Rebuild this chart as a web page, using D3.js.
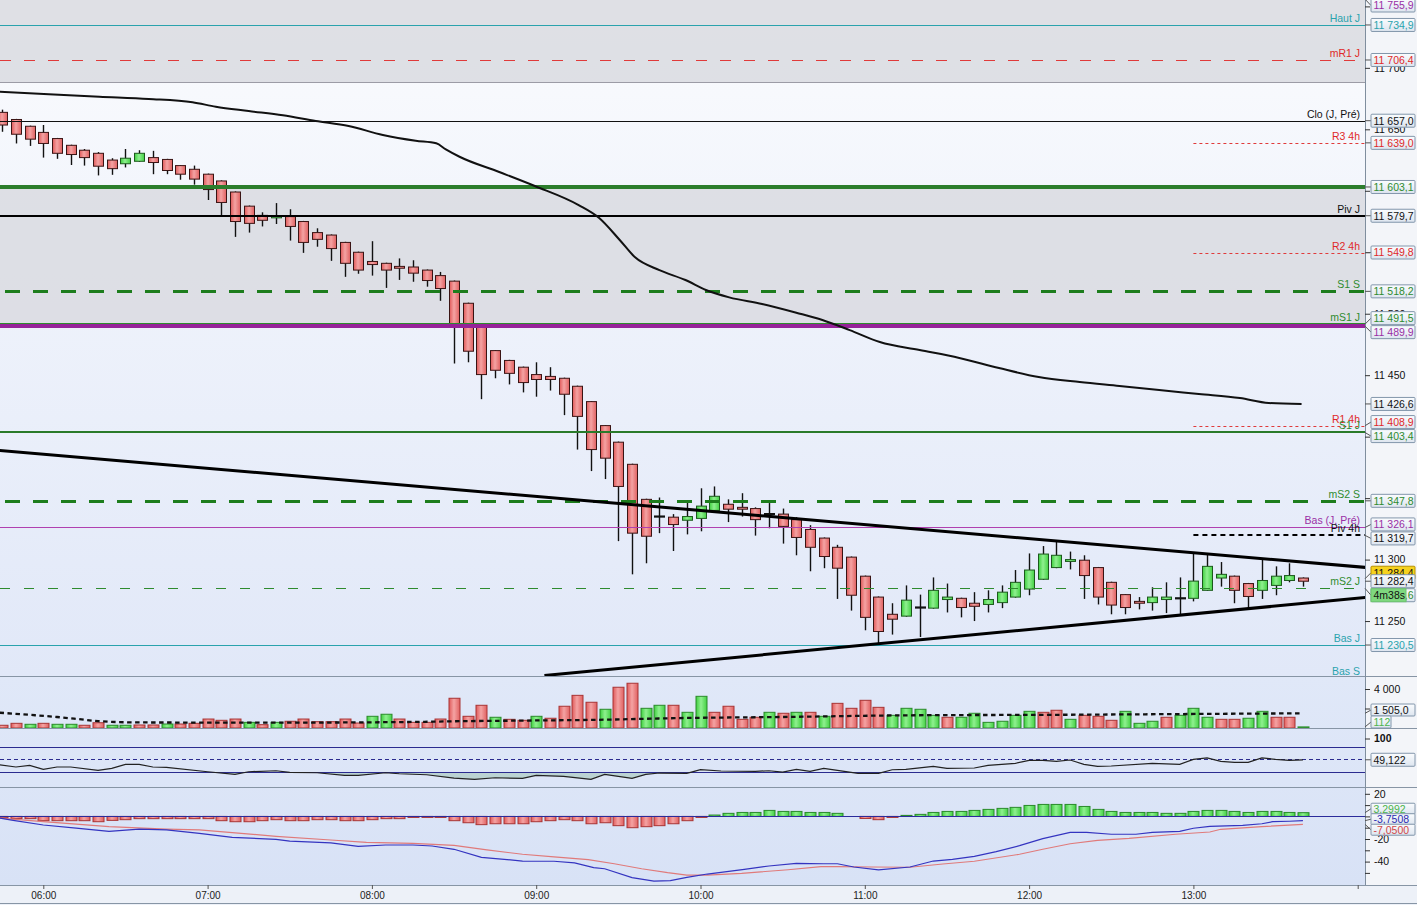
<!DOCTYPE html>
<html><head><meta charset="utf-8">
<script src="https://cdn.jsdelivr.net/npm/d3@7/dist/d3.min.js"></script>
<style>
html,body{margin:0;padding:0;background:#edf1f8;overflow:hidden}
svg{display:block;font-family:"Liberation Sans",Arial,sans-serif}
</style></head><body>
<svg id="c" width="1417" height="905"></svg>
<script>
// ---------------- DATA ----------------
const firstCandle = "05:45";   // time of first candle
const candleMinutes = 5;
const open  = [11663.8,11658,11652.5,11647.5,11642.5,11637,11633,11630.5,11625,11622,
  11624,11627,11625.5,11620.5,11617.5,11613.5,11608,11599,11587.5,11580,
  11578,11579,11575,11566,11564,11558,11550,11542.5,11541,11538.5,
  11538,11535.5,11531,11526.5,11508.5,11489,11470,11462,11456.5,11450.5,
  11449,11447.5,11441,11428.5,11409,11395.5,11377.5,11349,11335,11334.5,
  11332,11333.5,11340,11345,11342.5,11341.5,11337,11337,11332.5,11324.5,
  11317.5,11310,11302,11286.5,11269.5,11255.5,11254,11261,11260.5,11267.5,
  11268.5,11264.5,11263.5,11265,11269.5,11276,11284,11293.5,11298.5,11299.5,
  11293.5,11281.5,11271.5,11266,11265,11267.5,11268.5,11268.5,11275,11285,
  11286.5,11280.5,11275,11279,11283,11285];
const high  = [11666,11658.5,11653,11653.5,11643,11637.5,11634,11631.5,11626.5,11634,
  11633,11632.5,11626,11621,11620.5,11614,11608.5,11599.5,11588,11582.5,
  11590,11585,11575.5,11569.5,11564.5,11558.5,11550.5,11559,11541.5,11545,
  11543.5,11536,11534,11527,11509,11489.5,11470.5,11462.5,11457,11460.5,
  11456.5,11448,11441.5,11429,11409.5,11396,11378,11349.5,11350.5,11337,
  11346.5,11358,11359.5,11349,11354,11342.5,11346,11341.5,11334.5,11328,
  11318,11312,11302.5,11287,11270,11264.5,11279,11271.5,11285.5,11280.5,
  11269,11273.5,11275,11279,11291.5,11305,11311,11315,11306.5,11303.5,
  11294,11282,11272,11269.5,11277.5,11281.5,11285.5,11305,11304.5,11298,
  11287,11281,11300,11294.5,11297,11285.5];
const low   = [11648,11638.5,11636.5,11627,11626,11621,11620.5,11612.5,11613,11619,
  11623.5,11613.5,11613.5,11609,11605,11592.5,11580,11562.5,11566,11571,
  11573,11559.5,11549.5,11554.5,11543,11530,11532.5,11531,11521,11527.5,
  11526,11522,11510.5,11459.5,11460.5,11430.5,11447.5,11442.5,11436,11432.5,
  11437.5,11417.5,11389.5,11372,11365.5,11315,11288,11297,11321.5,11307,
  11320.5,11323,11339.5,11330.5,11335,11319.5,11325.5,11313,11303.5,11290.5,
  11293,11268,11258.5,11242.5,11230.5,11239,11253.5,11237,11260,11257,
  11253,11250,11257,11260.5,11269,11271,11283.5,11293,11292,11268,
  11263.5,11255.5,11255.5,11259.5,11258.5,11256.5,11254.5,11266,11274.5,11278,
  11264.5,11260.5,11268,11271,11281.5,11278];
const close = [11653.5,11646,11642,11638.5,11630.5,11629.5,11627,11620,11618,11626.5,
  11630.5,11623,11616.5,11613.5,11609.5,11601,11590.5,11575,11573.5,11576,
  11579.5,11571,11558,11560.5,11553,11541,11535.5,11540,11535.5,11537,
  11533,11527,11520.5,11491.5,11469.5,11450.5,11454,11451.5,11444,11446.5,
  11446.5,11434.5,11416.5,11389.5,11382.5,11359.5,11321.5,11319,11335,11328.5,
  11335,11343.5,11351.5,11341,11341,11332.5,11337,11327,11318,11310,
  11302.5,11293,11271,11253,11241.5,11251.5,11267,11261,11275,11269.5,
  11261,11262,11267.5,11273.5,11281.5,11291.5,11304.5,11303.5,11300,11287,
  11269.5,11263,11261,11264.5,11269.5,11269.5,11268.5,11282.5,11294.5,11288,
  11275,11270,11283,11286.5,11287,11282.4];
const volume = [280,480,380,480,380,380,280,540,280,280,
  310,310,410,410,480,920,790,920,580,340,
  580,690,920,650,650,920,510,1200,1410,920,
  580,580,920,3050,1200,2330,1100,890,790,1200,
  1000,2230,3350,2640,1920,4180,4590,2020,2330,2330,
  1610,3250,1610,2230,890,1100,1610,1510,1610,1610,
  1200,2530,2020,2840,2120,1300,2020,1920,1300,1100,
  1100,1510,580,690,1300,1710,1610,1820,890,1300,
  1200,790,1710,480,690,1100,1300,2020,1100,890,
  890,1000,1710,1100,1100,112];
const volumeSide = "rrgrggrrgg"+"rrgrrrrrgr"+"grrrrrrggr"+"rrrrrrgrrg"+"rrrrgrrggr"+
  "ggrrrrgrgr"+"grrrrggggr"+"ggggggrrgr"+"rrgggrgggr"+"rggrrg";
const volumeMA = [[-0.2,1570],[2,1350],[4,1130],[5.5,920],[7,700],[10,570],[20,550],[30,620],
  [33,690],[38,760],[43,830],[50,1030],[57,1130],[66,1300],[78,1360],[86,1430],[95,1505]];
const priceMA = [[-0.2,11680.6],[3.4,11678.5],[7.1,11676.5],[10.7,11674.7],[13.9,11672],[15.6,11668.4],
  [18,11664.9],[20.5,11661.4],[22.9,11656.8],[25.3,11652.7],[27.8,11645.4],[30.2,11640.7],[31.7,11638.6],
  [32.4,11633.7],[33.4,11627.7],[36.3,11615.3],[38.9,11603.9],[42.1,11588.4],[43.6,11577.9],[45.1,11560],
  [46.2,11546.1],[48,11535.5],[49.9,11527.4],[51.4,11519.3],[53.1,11513.3],[55.5,11507.9],[58,11500.8],
  [59.9,11494.9],[61.9,11486.7],[64.1,11477],[67,11470.5],[69.9,11464],[72.8,11455.8],[75.7,11448.5],
  [78.7,11444.4],[81.6,11441.2],[84.5,11437.9],[87.4,11434.7],[90.4,11431.4],[92.5,11427.4],[94.9,11426.6]];
const trendUpper = [[-0.2,11388.8],[99.6,11293.6]];
const trendLower = [[39.6,11205.7],[99.6,11269.2]];
const rsi = [[-0.2,37.3],[1,31.8],[2,35.8],[3,26.2],[4,31.8],[5,31.8],[7,23.8],[8,28.6],[9,38.2],[10,38.2],
  [11,31.8],[12,31],[15,20.5],[17,14.2],[18,20.5],[20,22.9],[21,19],[23,18.1],[25,11.8],[26,11.8],[28,18.1],
  [29,15.7],[31,13.3],[33,5.4],[34.5,2.2],[36,6.1],[38,4.6],[39,11.8],[41,9.4],[43,2.2],[44,14.2],[46,4.6],
  [47,14.2],[48,17.4],[50,16.6],[51,25.3],[52.5,22.2],[55,21.4],[56,22.9],[57,19.8],[58,26.2],[59,21.4],
  [60,28.6],[61,23.8],[62.5,16.6],[64,16.6],[65,25.3],[66,26.2],[68,33.4],[69,28.6],[71,29.4],[72,35.8],
  [74,40.6],[75,47.8],[76,47.8],[77,45.4],[78,48.6],[79,38.2],[80,33.4],[81,34.2],[84,40.6],[86,38.2],
  [87,50.2],[88,53.4],[89,45.4],[90,43],[91,43],[92,53.4],[93,50.2],[94,47.8],[95,49.1]];
const macdLine = [[-0.2,-1.4],[0.8,-3.5],[3,-7.6],[5.4,-10.3],[7.8,-13.2],[10,-11.2],[12,-12],[14.4,-15],
  [16.8,-18.5],[20,-20.3],[21,-21.8],[24,-23.5],[26,-26.5],[28,-25.3],[30,-25.3],[31.4,-26.2],[33,-29.1],
  [35,-36.2],[38,-39.5],[40.3,-39.7],[41.8,-41.2],[43.2,-45.4],[44,-46.3],[46,-54.2],[47.6,-57.2],[48.8,-56.9],
  [50,-53.9],[51.5,-51],[54.2,-46.8],[56,-43.9],[58,-41.5],[60,-41.9],[61,-41.9],[62.2,-44.8],[64,-47.4],
  [66.3,-44.8],[68,-39.5],[69.4,-38],[71,-35.3],[72.6,-31.2],[74.3,-25.9],[76,-19.7],[78,-14.1],[79.2,-14.1],
  [81,-15.8],[82.8,-15.8],[84,-14.1],[86,-13.2],[87,-10.5],[88.2,-8.8],[90.6,-7.9],[92,-6.5],[92.8,-4.7],
  [94,-4.3],[95,-3.75]];
const signalLine = [[-0.2,-1.4],[3,-4.7],[7.8,-9.1],[12,-11.2],[14.4,-12],[16.8,-14.4],[20,-17.6],[24,-20.9],
  [26.6,-22.9],[30,-23.8],[33,-25.6],[35.4,-29.7],[38,-33.5],[40.3,-35.9],[42.8,-38.3],[44.7,-41.9],
  [46.7,-46.3],[48.6,-49.8],[50,-51.9],[51.5,-51.9],[54,-50.4],[57.4,-47.2],[59.8,-44.5],[61,-44.5],
  [63.5,-44.8],[66.3,-45],[68.7,-42.1],[71,-39.7],[74.3,-33.5],[76,-29.1],[78,-24.2],[80,-21.2],[82.3,-19.4],
  [85.7,-15.8],[88.2,-13.8],[89,-11.4],[92,-9.1],[95,-7.05]];
const macdHist = [-1.2,-2.0,-2.0,-3.8,-3.8,-3.8,-3.8,-4.7,-3.5,-2.9,
  -2.0,-2.0,-2.0,-2.0,-2.0,-2.0,-3.8,-4.7,-4.7,-3.8,
  -2.9,-3.8,-3.8,-2.9,-2.9,-3.8,-3.8,-2.9,-2.0,-2.0,
  -0.9,-0.9,-0.9,-3.8,-5.6,-7.3,-6.5,-6.5,-6.5,-4.7,
  -3.8,-2.9,-3.8,-6.5,-5.6,-8.2,-10.0,-9.1,-8.2,-6.5,
  -3.8,-0.9,1.2,2.7,3.5,3.5,5.3,4.4,4.4,3.5,
  3.5,2.7,0.2,-1.8,-2.9,-0.9,0.9,1.8,3.5,4.4,
  4.4,5.3,6.2,7.1,8.0,9.7,10.6,10.6,10.6,8.8,
  6.2,4.4,3.5,3.5,3.5,2.7,2.7,4.4,5.3,5.3,
  4.4,3.5,4.4,4.4,3.5,3.3];
const levelNames  = ["", "Haut J", "mR1 J", "Clo (J, Pré)", "R3 4h", "", "Piv J", "R2 4h", "S1 S", "mS1 J", "",
  "R1 4h", "S1 J", "mS2 S", "Bas (J, Pré)", "Piv 4h", "mS2 J", "Bas J"];
const levelValues = [11755.9, 11734.9, 11706.4, 11657.0, 11639.0, 11603.1, 11579.7, 11549.8, 11518.2, 11491.5, 11489.9,
  11408.9, 11403.4, 11347.8, 11326.1, 11319.7, 11276.6, 11230.5];
const zones = [[11755.9, 11688.5], [11603.1, 11489.9]];
const lastPrice = 11282.4, askPrice = 11284.4, maLast = 11426.6, countdown = "4m38s";
const volAvgLast = 1505.0, volLast = 112;
const rsiLast = 49.122, macdLast = -3.7508, signalLast = -7.0500, histLast = 3.2992;
const priceTicks = d3.range(11250, 11751, 50);
const hourTicks = ["06:00","07:00","08:00","09:00","10:00","11:00","12:00","13:00","14:00"];

// ---------------- LAYOUT / STYLES ----------------
const PR = 1365, W = 1417;
const P = {price:[0,676], vol:[676,728], rsi:[728,787], macd:[787,885]};
const svg = d3.select('#c');
const defs = svg.append('defs');
const loc = d3.formatLocale({decimal:",", thousands:" ", grouping:[3], currency:["",""], minus:"-"});
const f1 = loc.format(",.1f"), f0 = loc.format(","), f3 = loc.format(".3f"), f4 = loc.format(".4f");

const [fh, fm] = firstCandle.split(":").map(Number);
const base = new Date(2024,0,1,0,0).getTime();
const tAt = i => new Date(base + (fh*60 + fm + candleMinutes*i)*60000);
const parseH = s => { const [h,m] = s.split(":").map(Number); return new Date(base + (h*60+m)*60000); };
const x = d3.scaleTime().domain([parseH("06:00"), parseH("13:00")]).range([43.3, 1193.4]);
const xi = i => x(tAt(i));
const yP = d3.scaleLinear().domain([11205.3, 11755.2]).range([676, 0]);
const yV = d3.scaleLinear().domain([0, 4000]).range([728, 689]);
const yR = d3.scaleLinear().domain([0, 100]).range([780.3, 738.5]);
const yM = d3.scaleLinear().domain([0, 20]).range([816.4, 793.8]);

function grad(id, stops, vertical){
  const g = defs.append('linearGradient').attr('id', id)
    .attr('x1',0).attr('y1',0).attr('x2', vertical?0:1).attr('y2', vertical?1:0);
  stops.forEach(([o,c]) => g.append('stop').attr('offset',o).attr('stop-color',c));
}
grad('gRed', [[0,'#e05a5a'],[0.45,'#f4a3a3'],[1,'#e06060']]);
grad('gGreen', [[0,'#3fcf3f'],[0.45,'#8ff08f'],[1,'#43d043']]);
grad('gPrice', [[0,'#fbfcfe'],[0.45,'#eef2fb'],[1,'#e1e8f8']], true);
grad('gLow', [[0,'#e0e8f8'],[1,'#d8e2f6']], true);
grad('gBox', [[0,'#fafcfe'],[1,'#dde5ef']], true);
Object.entries(P).forEach(([k,[a,b]]) => {
  defs.append('clipPath').attr('id','clip-'+k).append('rect')
    .attr('x',0).attr('y',a).attr('width',PR).attr('height',b-a);
});

// backgrounds
svg.append('rect').attr('width',W).attr('height',905).attr('fill','#edf1f8');
svg.append('rect').attr('x',PR).attr('y',0).attr('width',W-PR).attr('height',885).attr('fill','#f3f5f9');
svg.append('rect').attr('x',0).attr('y',0).attr('width',PR).attr('height',676).attr('fill','url(#gPrice)');
svg.append('rect').attr('x',0).attr('y',676).attr('width',PR).attr('height',885-676).attr('fill','url(#gLow)');

// ---------- PRICE PANEL ----------
const gp = svg.append('g').attr('clip-path','url(#clip-price)');
zones.forEach(([a,b]) => gp.append('rect').attr('x',0).attr('width',PR)
  .attr('y', yP(a)).attr('height', yP(b)-yP(a)).attr('fill','#d9dae1').attr('opacity',0.85));
gp.append('line').attr('x1',0).attr('x2',PR).attr('y1',Math.round(yP(zones[0][1]))+0.5)
  .attr('y2',Math.round(yP(zones[0][1]))+0.5).attr('stroke','#9c9ca6');

// candles
const cg = gp.append('g');
open.forEach((o,i) => {
  const c = close[i], cx = Math.round(xi(i)) + 0.5;
  cg.append('line').attr('x1',cx).attr('x2',cx).attr('y1',yP(high[i])).attr('y2',yP(low[i]))
    .attr('stroke','#111').attr('stroke-width',1.4);
  if (Math.abs(o - c) < 0.05) {
    cg.append('line').attr('x1',cx-5.5).attr('x2',cx+5.5).attr('y1',yP(o)).attr('y2',yP(o))
      .attr('stroke','#111').attr('stroke-width',2.2);
  } else {
    const up = c > o;
    const y1 = yP(Math.max(o,c)), y2 = yP(Math.min(o,c));
    cg.append('rect').attr('x',cx-5).attr('width',10).attr('y',y1).attr('height',Math.max(1.5,y2-y1))
      .attr('fill', up ? 'url(#gGreen)' : 'url(#gRed)')
      .attr('stroke', up ? '#1c5a1c' : '#3a1414').attr('stroke-width',1);
  }
});

// level lines
const levelStyle = [
  {c:'#1f8c8c', w:1.6, d:'6,5', t:'#9a2fa5'},
  {c:'#2aa3ad', w:1, t:'#2aa3ad'},
  {c:'#e03a3a', w:1, d:'11,13', t:'#e02828'},
  {c:'#111', w:1, t:'#111'},
  {c:'#e03a3a', w:1, d:'3,3', from:"13:00", t:'#e02828'},
  {c:'#2c7d2c', w:4, t:'#2e8b2e'},
  {c:'#000', w:2, t:'#111'},
  {c:'#e03a3a', w:1, d:'3,3', from:"13:00", t:'#e02828'},
  {c:'#1d7d1d', w:3, d:'15,13', off:-5, t:'#2e8b2e'},
  {c:'#2e8b2e', w:2, t:'#2e8b2e'},
  {c:'#962299', w:4, t:'#9a2fa5'},
  {c:'#e03a3a', w:1, d:'3,3', from:"13:00", t:'#e02828'},
  {c:'#2a7a2a', w:2, t:'#2e8b2e'},
  {c:'#1d7d1d', w:3, d:'15,13', off:-5, t:'#2e8b2e'},
  {c:'#b040b0', w:1, t:'#9a2fa5'},
  {c:'#000', w:2.2, d:'5,4', from:"13:00", t:'#111'},
  {c:'#2e8b2e', w:1, d:'10,14', t:'#2e8b2e'},
  {c:'#2aa3ad', w:1, t:'#2aa3ad'}
];
levelValues.forEach((v,k) => {
  const s = levelStyle[k];
  const yy = s.w % 2 === 1 ? Math.round(yP(v)) + 0.5 : Math.round(yP(v));
  gp.append('line').attr('x1', s.from ? x(parseH(s.from)) : 0).attr('x2', PR)
    .attr('y1', yy).attr('y2', yy).attr('stroke', s.c).attr('stroke-width', s.w)
    .attr('stroke-dasharray', s.d || null).attr('stroke-dashoffset', s.off || 0);
});

// trend lines & MA
const lineIdx = d3.line().x(d => xi(d[0]));
gp.append('path').datum(priceMA).attr('fill','none').attr('stroke','#111').attr('stroke-width',2)
  .attr('d', lineIdx.y(d => yP(d[1])).curve(d3.curveMonotoneX));
[trendUpper, trendLower].forEach(t => gp.append('path').datum(t).attr('fill','none')
  .attr('stroke','#000').attr('stroke-width',3).attr('d', d3.line().x(d => xi(d[0])).y(d => yP(d[1]))));

// level names
const lt = svg.append('g').attr('font-size','10.5px').attr('text-anchor','end');
levelNames.forEach((n,k) => {
  if (!n) return;
  lt.append('text').attr('x',1360).attr('y', yP(levelValues[k]) - 3).attr('fill', levelStyle[k].t).text(n);
});
lt.append('text').attr('x',1360).attr('y',675).attr('fill','#2aa3ad').text('Bas S');

// ---------- VOLUME ----------
const gv = svg.append('g').attr('clip-path','url(#clip-vol)');
volume.forEach((v,i) => {
  const up = volumeSide[i] === 'g', cx = Math.round(xi(i)) + 0.5;
  gv.append('rect').attr('x', cx-5.5).attr('width',11).attr('y', yV(v)).attr('height', Math.max(0.8, yV(0)-yV(v)))
    .attr('fill', up ? 'url(#gGreen)' : 'url(#gRed)').attr('stroke', up ? '#2a8a2a' : '#a83434').attr('stroke-width',1);
});
gv.append('path').datum(volumeMA).attr('fill','none').attr('stroke','#111').attr('stroke-width',2.3)
  .attr('stroke-dasharray','4.5,3.5').attr('d', d3.line().x(d => xi(d[0])).y(d => yV(d[1])).curve(d3.curveMonotoneX));

// ---------- RSI ----------
const gr = svg.append('g').attr('clip-path','url(#clip-rsi)');
const rsiArea = d3.area().x(d => xi(d[0])).y0(yR(20)).y1(d => yR(Math.min(d[1], 20)));
gr.append('path').datum(rsi).attr('fill','#b5d0cc').attr('opacity',0.85).attr('d', rsiArea);
[[80,null],[50,'4,3'],[20,null]].forEach(([v,d]) => gr.append('line').attr('x1',0).attr('x2',PR)
  .attr('y1', Math.round(yR(v))+0.5).attr('y2', Math.round(yR(v))+0.5).attr('stroke','#2b2b8f')
  .attr('stroke-width',1).attr('stroke-dasharray', d));
gr.append('path').datum(rsi).attr('fill','none').attr('stroke','#222').attr('stroke-width',1.2)
  .attr('d', d3.line().x(d => xi(d[0])).y(d => yR(d[1])));

// ---------- MACD ----------
const gm = svg.append('g').attr('clip-path','url(#clip-macd)');
macdHist.forEach((v,i) => {
  const up = v >= 0, cx = Math.round(xi(i)) + 0.5;
  const y1 = Math.min(yM(v), yM(0)), h = Math.abs(yM(v) - yM(0));
  if (h < 0.3) return;
  gm.append('rect').attr('x', cx-5.5).attr('width',11).attr('y', y1).attr('height', h)
    .attr('fill', up ? 'url(#gGreen)' : 'url(#gRed)').attr('stroke', up ? '#2a8a2a' : '#a83434').attr('stroke-width',1);
});
gm.append('line').attr('x1',0).attr('x2',PR).attr('y1',Math.round(yM(0))+0.5).attr('y2',Math.round(yM(0))+0.5)
  .attr('stroke','#2b2b9b');
gm.append('path').datum(signalLine).attr('fill','none').attr('stroke','#e07a7a').attr('stroke-width',1.2)
  .attr('d', d3.line().x(d => xi(d[0])).y(d => yM(d[1])));
gm.append('path').datum(macdLine).attr('fill','none').attr('stroke','#3434c0').attr('stroke-width',1.2)
  .attr('d', d3.line().x(d => xi(d[0])).y(d => yM(d[1])));

// ---------- separators ----------
[676, 728, 787, 885].forEach(y => svg.append('line').attr('x1',0).attr('x2',W).attr('y1',y+0.5).attr('y2',y+0.5)
  .attr('stroke','#8795a5'));
svg.append('line').attr('x1',PR+0.5).attr('x2',PR+0.5).attr('y1',0).attr('y2',885).attr('stroke','#7f8e9e');
svg.append('line').attr('x1',0).attr('x2',W).attr('y1',903.5).attr('y2',903.5).attr('stroke','#8795a5');

// ---------- box layout ----------
function layout(list, gap, h, lo, hi){
  list.forEach(d => d.y = d.scale(d.v));
  list.sort((a,b) => a.y - b.y);
  list.forEach(d => { d.y = Math.max(lo + h/2, Math.min(hi - h/2, d.y)); });
  for (let it = 0; it < 200; it++) {
    for (let j = 1; j < list.length; j++) {
      const a = list[j-1], b = list[j], ov = gap - (b.y - a.y);
      if (ov <= 0) continue;
      if (a.fixed && !b.fixed) b.y += ov;
      else if (b.fixed && !a.fixed) a.y -= ov;
      else { a.y -= ov/2; b.y += ov/2; }
    }
    if (list[0].y < lo + h/2) list[0].y = lo + h/2;
    const L = list[list.length-1]; if (L.y > hi - h/2) L.y = hi - h/2;
  }
  list.forEach(d => d.h = h);
  return list;
}
function drawBoxes(list){
  list.forEach(d => {
    const g = svg.append('g');
    g.append('line').attr('x1',PR).attr('x2',PR+6).attr('y1',d.scale(d.v)).attr('y2',d.y).attr('stroke','#555');
    g.append('rect').attr('x',PR+6).attr('y',d.y-d.h/2).attr('width',d.w||44).attr('height',d.h).attr('rx',1)
      .attr('fill', d.bg || 'url(#gBox)').attr('stroke', d.bs || '#8296ab');
    g.append('text').attr('x',PR+8.5).attr('y',d.y+3.8).attr('font-size','10.5px').attr('fill',d.c).text(d.t);
  });
}
const priceBoxes = levelValues.map((v,k) => ({v, c: levelStyle[k].t, t: f1(v), scale: yP}));
priceBoxes.push({v: maLast, c:'#111', t: f1(maLast), scale: yP});
const cur = {v: lastPrice, c:'#111', t: f1(lastPrice), scale: yP, fixed: true};
priceBoxes.push(cur);
layout(priceBoxes, 14, 13, -1, 676);
const volBoxes = layout([{v: volAvgLast, c:'#111', t: f1(volAvgLast), scale: yV},
       {v: volLast, c:'#4cb54c', t: f0(volLast), scale: yV, w: 20}], 12, 12, 676, 728);
const rsiBoxes = layout([{v: rsiLast, c:'#111', t: f3(rsiLast), scale: yR}], 12, 13, 728, 787);
const macdBoxes = layout([{v: histLast, c:'#4cb54c', t: f4(histLast), scale: yM},
       {v: macdLast, c:'#2b2bb0', t: f4(macdLast), scale: yM},
       {v: signalLast, c:'#d04848', t: f4(signalLast), scale: yM}], 10.5, 11, 787, 885);

// ---------- right axes (tick texts fully hidden under a value box are left out) ----------
function rAxis(scale, ticks, fmt, boxesList, bold){
  const g = svg.append('g').attr('transform',`translate(${PR},0)`)
    .call(d3.axisRight(scale).tickValues(ticks).tickSize(5).tickPadding(4).tickFormat(fmt));
  g.select('.domain').remove();
  g.selectAll('line').attr('stroke','#333');
  g.selectAll('.tick').each(function(d){
    const ty = scale(d);
    if (boxesList.some(b => Math.abs(b.y - ty) < 4)) d3.select(this).select('text').remove();
  });
  g.selectAll('text').attr('font-size','10.5px').attr('fill','#111').attr('font-family','Liberation Sans, Arial')
    .attr('font-weight', bold ? 'bold' : null);
}
rAxis(yP, priceTicks, f0, priceBoxes);
rAxis(yV, [2000, 4000], f0, volBoxes);
rAxis(yR, [100], d => d, rsiBoxes, true);
rAxis(yM, d3.range(-50, 21, 10), d => d % 20 === 0 ? f0(d) : "", macdBoxes);

// ask box mostly hidden behind the last price box
const ask = {v: askPrice, c:'#111', t: f1(askPrice), scale: yP, h: 13, bg:'#f6d21e', bs:'#b89000'};
ask.y = cur.y - 8.5;
drawBoxes([ask]);
drawBoxes(priceBoxes.filter(d => d !== cur));
drawBoxes([cur]);
// countdown box right under the last price box
const cdg = svg.append('g');
cdg.append('rect').attr('x',PR+6).attr('y',cur.y+14-6.5).attr('width',35).attr('height',13)
  .attr('fill','#7fd87f').attr('stroke','#6cc46c');
cdg.append('text').attr('x',PR+8.5).attr('y',cur.y+14+3.8).attr('font-size','10.5px').attr('fill','#111').text(countdown);
drawBoxes(volBoxes);
drawBoxes(rsiBoxes);
drawBoxes(macdBoxes);

// ---------- time axis ----------
const xa = svg.append('g').attr('transform','translate(0,885)')
  .call(d3.axisBottom(x).tickValues(hourTicks.map(parseH)).tickSize(4).tickPadding(3)
    .tickFormat(d => d > parseH("13:30") ? "" : d3.timeFormat("%H:%M")(d)));
xa.select('.domain').remove();
xa.selectAll('line').attr('stroke','#555');
xa.selectAll('text').attr('font-size','10px').attr('fill','#222').attr('font-family','Liberation Sans, Arial');
</script>
</body></html>
